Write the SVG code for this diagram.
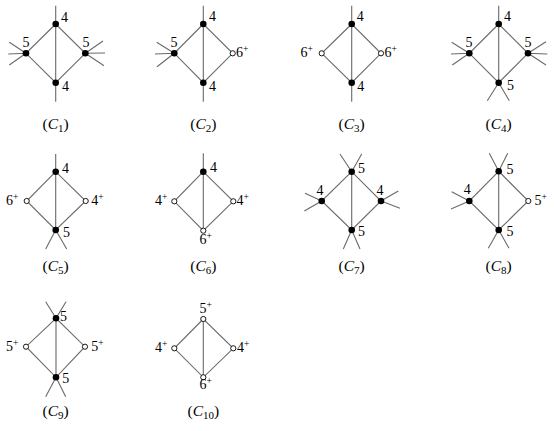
<svg xmlns="http://www.w3.org/2000/svg" width="554" height="431" viewBox="0 0 554 431">
<style>
.e{stroke:#6a6a6a;stroke-width:1.1;fill:none;stroke-linecap:butt}
.f{fill:#000}
.o{fill:#fff;stroke:#000;stroke-width:0.9}
text{font-family:'Liberation Serif','Times New Roman','DejaVu Serif',serif;fill:#000}
.l{font-size:14px}
.s{font-size:9.5px}
.cap{font-size:15.5px;text-anchor:middle}
.i{font-style:italic}
.b{font-size:11px}
</style>
<rect width="554" height="431" fill="#fff"/>
<g id="connectors">
<path class="e" d="M55.7,24L26,53.3L55.7,82.7L85.3,53.3Z M55.7,5.7V101.7 M26,53.3L9.3,42.3 M26,53.3L8.3,54 M26,53.3L9.3,65 M85.3,53.3L103,41 M85.3,53.3L105,53 M85.3,53.3L104,65.7"/>
<path class="e" d="M203.3,24L174.3,53.3L203.3,82.7L232.7,53.3Z M203.3,5.7V101.7 M174.3,53.3L156.7,42.3 M174.3,53.3L155,54 M174.3,53.3L157,66.7"/>
<path class="e" d="M351.7,24L321.7,53.3L351.7,82.7L381,53.3Z M351.7,5.7V101.7"/>
<path class="e" d="M498.7,24L469.3,53.3L498.7,82.7L528,53.3Z M498.7,5.7V82.7 M469.3,53.3L451.7,42.3 M469.3,53.3L451,54 M469.3,53.3L452.3,65 M528,53.3L546,41.7 M528,53.3L547.3,54 M528,53.3L546,65 M498.7,82.7L487.3,100.7 M498.7,82.7L509.3,100.7"/>
<path class="e" d="M55.7,171.7L26.7,201L55.7,230L85.7,201Z M55.7,154V230 M55.7,230L45.7,249 M55.7,230L66.7,249"/>
<path class="e" d="M203.3,171.7L174.3,201.3L203.3,230.7L233.3,201.3Z M203.3,153.3V230.7"/>
<path class="e" d="M351.7,171.7L321.7,201L351.7,230L381,201Z M351.7,171.7V230 M351.7,171.7L340,154 M351.7,171.7L361.7,154 M351.7,230L343.3,249 M351.7,230L360,249 M321.7,201L305,193.3 M321.7,201L304.3,211 M381,201L398.3,191 M381,201L400,208.3"/>
<path class="e" d="M498.7,171.3L469.3,201L498.7,230L528.3,201Z M498.7,171.3V230 M498.7,171.3L489.3,153.3 M498.7,171.3L507.7,153.3 M498.7,230L488.3,248.3 M498.7,230L509,248.3 M469.3,201L451.7,191.7 M469.3,201L451,209"/>
<path class="e" d="M56,318.3L26,346.7L56,377.3L85,346.7Z M56,318.3V377.3 M56,318.3L45.7,301.7 M56,318.3L66,301.7 M56,377.3L45.7,396.7 M56,377.3L65.7,396.7"/>
<path class="e" d="M203.3,319L174.3,348.3L203.3,377.3L233.3,348.3Z M203.3,319V377.3"/>
</g>

<g id="c1-t"><circle class="f" cx="55.7" cy="24" r="3.3"/><text class="l" x="61" y="21.7">4</text></g>
<g id="c1-l"><circle class="f" cx="26" cy="53.3" r="3.3"/><text class="l" x="22.5" y="46.7">5</text></g>
<g id="c1-r"><circle class="f" cx="85.3" cy="53.3" r="3.3"/><text class="l" x="82.5" y="46.7">5</text></g>
<g id="c1-b"><circle class="f" cx="55.7" cy="82.7" r="3.3"/><text class="l" x="62" y="90.7">4</text></g>

<g id="c2-t"><circle class="f" cx="203.3" cy="24" r="3.3"/><text class="l" x="209" y="20.7">4</text></g>
<g id="c2-l"><circle class="f" cx="174.3" cy="53.3" r="3.3"/><text class="l" x="170.5" y="46.7">5</text></g>
<g id="c2-r"><circle class="o" cx="232.7" cy="53.3" r="2.6"/><text class="l" x="236" y="57">6<tspan class="s" dy="-5">+</tspan></text></g>
<g id="c2-b"><circle class="f" cx="203.3" cy="82.7" r="3.3"/><text class="l" x="209" y="90.7">4</text></g>

<g id="c3-t"><circle class="f" cx="351.7" cy="24" r="3.3"/><text class="l" x="356.7" y="20.7">4</text></g>
<g id="c3-l"><circle class="o" cx="321.7" cy="53.3" r="2.6"/><text class="l" x="300.5" y="57">6<tspan class="s" dy="-5">+</tspan></text></g>
<g id="c3-r"><circle class="o" cx="381" cy="53.3" r="2.6"/><text class="l" x="384.5" y="57">6<tspan class="s" dy="-5">+</tspan></text></g>
<g id="c3-b"><circle class="f" cx="351.7" cy="82.7" r="3.3"/><text class="l" x="357.3" y="90.7">4</text></g>

<g id="c4-t"><circle class="f" cx="498.7" cy="24" r="3.3"/><text class="l" x="504" y="20.7">4</text></g>
<g id="c4-l"><circle class="f" cx="469.3" cy="53.3" r="3.3"/><text class="l" x="465.5" y="46.7">5</text></g>
<g id="c4-r"><circle class="f" cx="528" cy="53.3" r="3.3"/><text class="l" x="524.5" y="46.7">5</text></g>
<g id="c4-b"><circle class="f" cx="498.7" cy="82.7" r="3.3"/><text class="l" x="507" y="89.7">5</text></g>

<g id="c5-t"><circle class="f" cx="55.7" cy="171.7" r="3.3"/><text class="l" x="62" y="172.5">4</text></g>
<g id="c5-l"><circle class="o" cx="26.7" cy="201" r="2.6"/><text class="l" x="6" y="204.5">6<tspan class="s" dy="-5">+</tspan></text></g>
<g id="c5-r"><circle class="o" cx="85.7" cy="201" r="2.6"/><text class="l" x="91.2" y="204.5">4<tspan class="s" dy="-5">+</tspan></text></g>
<g id="c5-b"><circle class="f" cx="55.7" cy="230" r="3.3"/><text class="l" x="63" y="237.3">5</text></g>

<g id="c6-t"><circle class="f" cx="203.3" cy="171.7" r="3.3"/><text class="l" x="210" y="172">4</text></g>
<g id="c6-l"><circle class="o" cx="174.3" cy="201.3" r="2.6"/><text class="l" x="155" y="204.5">4<tspan class="s" dy="-5">+</tspan></text></g>
<g id="c6-r"><circle class="o" cx="233.3" cy="201.3" r="2.6"/><text class="l" x="236.5" y="204.5">4<tspan class="s" dy="-5">+</tspan></text></g>
<g id="c6-b"><circle class="o" cx="203.3" cy="230.7" r="2.6"/><text class="l" x="199.5" y="243.5">6<tspan class="s" dy="-5">+</tspan></text></g>

<g id="c7-t"><circle class="f" cx="351.7" cy="171.7" r="3.3"/><text class="l" x="358" y="173.3">5</text></g>
<g id="c7-l"><circle class="f" cx="321.7" cy="201" r="3.3"/><text class="l" x="316.5" y="195">4</text></g>
<g id="c7-r"><circle class="f" cx="381" cy="201" r="3.3"/><text class="l" x="376.5" y="195">4</text></g>
<g id="c7-b"><circle class="f" cx="351.7" cy="230" r="3.3"/><text class="l" x="358" y="235.7">5</text></g>

<g id="c8-t"><circle class="f" cx="498.7" cy="171.3" r="3.3"/><text class="l" x="506.5" y="174">5</text></g>
<g id="c8-l"><circle class="f" cx="469.3" cy="201" r="3.3"/><text class="l" x="463.8" y="194">4</text></g>
<g id="c8-r"><circle class="o" cx="528.3" cy="201" r="2.6"/><text class="l" x="534.5" y="204.5">5<tspan class="s" dy="-5">+</tspan></text></g>
<g id="c8-b"><circle class="f" cx="498.7" cy="230" r="3.3"/><text class="l" x="506.5" y="235.7">5</text></g>

<g id="c9-t"><circle class="f" cx="56" cy="318.3" r="3.3"/><text class="l" x="60" y="321">5</text></g>
<g id="c9-l"><circle class="o" cx="26" cy="346.7" r="2.6"/><text class="l" x="6" y="350.7">5<tspan class="s" dy="-5">+</tspan></text></g>
<g id="c9-r"><circle class="o" cx="85" cy="346.7" r="2.6"/><text class="l" x="91.2" y="350.7">5<tspan class="s" dy="-5">+</tspan></text></g>
<g id="c9-b"><circle class="f" cx="56" cy="377.3" r="3.3"/><text class="l" x="62.3" y="382.7">5</text></g>

<g id="c10-t"><circle class="o" cx="203.3" cy="319" r="2.6"/><text class="l" x="199.5" y="313.3">5<tspan class="s" dy="-5">+</tspan></text></g>
<g id="c10-l"><circle class="o" cx="174.3" cy="348.3" r="2.6"/><text class="l" x="155" y="351.7">4<tspan class="s" dy="-5">+</tspan></text></g>
<g id="c10-r"><circle class="o" cx="233.3" cy="348.3" r="2.6"/><text class="l" x="237" y="351.7">4<tspan class="s" dy="-5">+</tspan></text></g>
<g id="c10-b"><circle class="o" cx="203.3" cy="377.3" r="2.6"/><text class="l" x="199.5" y="388.5">6<tspan class="s" dy="-5">+</tspan></text></g>

<g id="captions">
<text class="cap" x="55.7" y="129">(<tspan class="i">C</tspan><tspan class="b" dy="3">1</tspan><tspan dy="-3">)</tspan></text>
<text class="cap" x="203.3" y="129">(<tspan class="i">C</tspan><tspan class="b" dy="3">2</tspan><tspan dy="-3">)</tspan></text>
<text class="cap" x="351.7" y="129">(<tspan class="i">C</tspan><tspan class="b" dy="3">3</tspan><tspan dy="-3">)</tspan></text>
<text class="cap" x="498.7" y="129">(<tspan class="i">C</tspan><tspan class="b" dy="3">4</tspan><tspan dy="-3">)</tspan></text>
<text class="cap" x="55.7" y="271">(<tspan class="i">C</tspan><tspan class="b" dy="3">5</tspan><tspan dy="-3">)</tspan></text>
<text class="cap" x="203.3" y="271">(<tspan class="i">C</tspan><tspan class="b" dy="3">6</tspan><tspan dy="-3">)</tspan></text>
<text class="cap" x="351.7" y="271">(<tspan class="i">C</tspan><tspan class="b" dy="3">7</tspan><tspan dy="-3">)</tspan></text>
<text class="cap" x="498.7" y="271">(<tspan class="i">C</tspan><tspan class="b" dy="3">8</tspan><tspan dy="-3">)</tspan></text>
<text class="cap" x="55.7" y="416">(<tspan class="i">C</tspan><tspan class="b" dy="3">9</tspan><tspan dy="-3">)</tspan></text>
<text class="cap" x="203.3" y="416">(<tspan class="i">C</tspan><tspan class="b" dy="3">10</tspan><tspan dy="-3">)</tspan></text>
</g>
</svg>
